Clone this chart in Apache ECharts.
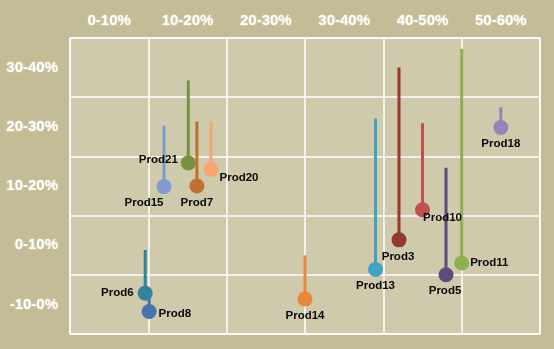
<!DOCTYPE html>
<html>
<head>
<meta charset="utf-8">
<script src="https://cdn.jsdelivr.net/npm/echarts@6/dist/echarts.min.js"></script>
<style>
html,body{margin:0;padding:0;background:#c4bc97;}
#chart{width:554px;height:349px;}
</style>
</head>
<body>
<div id="chart"></div>
<script>
// Data
var xBandLabels = ['0-10%', '10-20%', '20-30%', '30-40%', '40-50%', '50-60%'];
var yBandLabels = ['-10-0%', '0-10%', '10-20%', '20-30%', '30-40%'];
var products = ['Prod21', 'Prod7', 'Prod20', 'Prod15', 'Prod6', 'Prod8', 'Prod14', 'Prod13', 'Prod3', 'Prod10', 'Prod5', 'Prod11', 'Prod18'];
var xValues  = [15.1, 16.2, 18.0, 12.0, 9.6, 10.1, 30.0, 39.0, 42.0, 45.0, 48.0, 50.0, 55.0];
var yValues  = [18.9, 15.0, 17.8, 14.9, -3.1, -6.2, -4.1, 0.9, 5.9, 11.0, 0.0, 2.0, 24.9];
var yTops    = [32.8, 25.9, 25.9, 25.2, 4.2, -3.5, 3.3, 26.4, 35.0, 25.6, 18.1, 38.2, 28.3];
var colors   = ['#77923c', '#c0712f', '#f9a66e', '#7f9ccf', '#31849b', '#4a72b0', '#e9883a', '#41a2c1', '#953735', '#c0504d', '#604a7b', '#8fb04f', '#9883b6'];

// label placement per product (style only)
var labelPos = {
  'Prod21': {position: 'left', distance: 3, offset: [0, -3]},
  'Prod7':  {position: 'bottom', distance: 3, offset: [0, 0]},
  'Prod20': {position: 'right', distance: 1, offset: [0, 8]},
  'Prod15': {position: 'bottom', distance: 3, offset: [-20, 0]},
  'Prod6':  {position: 'left', distance: 4, offset: [0, 0]},
  'Prod8':  {position: 'right', distance: 2, offset: [0, 2]},
  'Prod14': {position: 'bottom', distance: 3, offset: [0, 0]},
  'Prod13': {position: 'bottom', distance: 3, offset: [0, 0]},
  'Prod3':  {position: 'bottom', distance: 3, offset: [-1, 0]},
  'Prod10': {position: 'bottom', distance: 3, offset: [20, -8]},
  'Prod5':  {position: 'bottom', distance: 3, offset: [-1, 0]},
  'Prod11': {position: 'right', distance: 1, offset: [0, 0]},
  'Prod18': {position: 'bottom', distance: 3, offset: [0, 0]}
};

var series = [];
products.forEach(function (p, i) {
  series.push({
    type: 'line',
    xAxisIndex: 0, yAxisIndex: 0,
    data: [[xValues[i], yValues[i]], [xValues[i], yTops[i]]],
    symbol: 'none',
    silent: true,
    animation: false,
    lineStyle: {color: colors[i], width: 3, cap: 'butt'},
    z: 2
  });
});
series.push({
  type: 'scatter',
  xAxisIndex: 0, yAxisIndex: 0,
  symbolSize: 15,
  animation: false,
  z: 3,
  data: products.map(function (p, i) {
    var lp = labelPos[p];
    return {
      name: p,
      value: [xValues[i], yValues[i]],
      itemStyle: {color: colors[i], opacity: 1},
      label: {
        show: true,
        formatter: p,
        position: lp.position,
        distance: lp.distance,
        offset: lp.offset,
        color: '#0a0a0a',
        fontFamily: 'Liberation Sans, Arial, sans-serif',
        fontWeight: 'bold',
        fontSize: 11.5
      }
    };
  })
});

var axisLabelStyle = {
  color: '#ffffff',
  fontFamily: 'Liberation Sans, Arial, sans-serif',
  fontWeight: 'bold',
  fontSize: 15,
  textShadowColor: 'rgba(255,255,240,0.6)',
  textShadowBlur: 2
};

var option = {
  backgroundColor: '#c4bc97',
  grid: {
    left: 70, right: 14, top: 38, bottom: 15,
    show: true,
    backgroundColor: '#cfcaab',
    borderColor: '#ffffff',
    borderWidth: 1.5
  },
  xAxis: [
    {
      type: 'value', min: 0, max: 60, interval: 10,
      axisLine: {show: false}, axisTick: {show: false}, axisLabel: {show: false},
      splitLine: {show: true, lineStyle: {color: '#ffffff', width: 1.5}}
    },
    {
      type: 'category', position: 'top', data: xBandLabels, boundaryGap: true,
      axisLine: {show: false}, axisTick: {show: false}, splitLine: {show: false},
      axisLabel: Object.assign({margin: 10}, axisLabelStyle)
    }
  ],
  yAxis: [
    {
      type: 'value', min: -10, max: 40, interval: 10,
      axisLine: {show: false}, axisTick: {show: false}, axisLabel: {show: false},
      splitLine: {show: true, lineStyle: {color: '#ffffff', width: 1.5}}
    },
    {
      type: 'category', position: 'left', data: yBandLabels, boundaryGap: true,
      axisLine: {show: false}, axisTick: {show: false}, splitLine: {show: false},
      axisLabel: Object.assign({margin: 12, padding: [6, 0, 0, 0]}, axisLabelStyle)
    }
  ],
  series: series
};

var chart = echarts.init(document.getElementById('chart'), null, {renderer: 'canvas'});
chart.setOption(option);
</script>
</body>
</html>
